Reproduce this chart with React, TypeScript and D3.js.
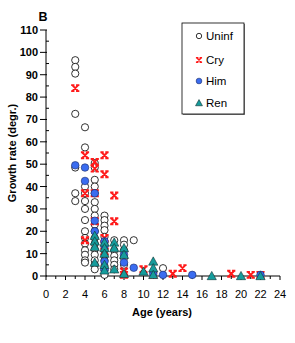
import * as d3 from 'd3'

// [age, growth rate] pairs
const uninf: [number, number][] = [
  [3, 96.5], [3, 93.5], [3, 90.5], [3, 72.5], [3, 48.5], [3, 37], [3, 33.5],
  [4, 66.5], [4, 57.5], [4, 40], [4, 37], [4, 33.5], [4, 30], [4, 25], [4, 20], [4, 17], [4, 14.5], [4, 11.5], [4, 9.5], [4, 7], [4, 6],
  [5, 50.5], [5, 48.5], [5, 43], [5, 40], [5, 37], [5, 33], [5, 30], [5, 27], [5, 23], [5, 20], [5, 17], [5, 14.5], [5, 12], [5, 9.5], [5, 7], [5, 5], [5, 3],
  [6, 27], [6, 25], [6, 22.5], [6, 20.5], [6, 17.5], [6, 15], [6, 12], [6, 9.5], [6, 7], [6, 4.5], [6, 2.5], [6, 0.5],
  [7, 16], [7, 11.5], [7, 9], [7, 7], [7, 5], [7, 3],
  [8, 16], [8, 14], [8, 11.5], [8, 8], [8, 5],
  [9, 16], [12, 3.5],
]
const cry: [number, number][] = [
  [3, 84], [4, 54], [4, 37], [4, 16], [5, 51], [5, 48], [5, 37], [5, 24.5],
  [6, 54], [6, 45.5], [6, 17], [6, 11], [7, 36], [7, 24.5], [8, 2], [8, 0.5],
  [10, 3], [11, 0.5], [13, 1], [14, 3.5], [19, 1], [21, 0.5], [22, 0.5],
]
const him: [number, number][] = [
  [3, 49.5], [4, 48.5], [4, 42.5], [5, 37], [5, 24.7], [5, 20], [6, 15.5], [6, 13.5], [6, 6.5], [6, 3],
  [8, 9.5], [8, 6], [9, 3.7], [11, 1], [12, 0.5], [15, 0.5], [22, 0.5],
]
const ren: [number, number][] = [
  [5, 18], [5, 15.5], [5, 13], [5, 6], [6, 15], [6, 12.5], [6, 10], [6, 5], [6, 2.5],
  [7, 15], [7, 12.5], [7, 3], [8, 12.5], [8, 9.5], [8, 1], [10, 2], [11, 6.5], [11, 3.5], [11, 0.5],
  [17, 0], [20, 0], [22, 0],
]
const xTicks = [0, 2, 4, 6, 8, 10, 12, 14, 16, 18, 20, 22, 24]
const yTicks = [0, 10, 20, 30, 40, 50, 60, 70, 80, 90, 100, 110]
const legendLabels = ['Uninf', 'Cry', 'Him', 'Ren']

const W = 295
const H = 343
const FONT = 'Liberation Sans, Arial, Helvetica, sans-serif'
const RED = '#ff1a1a'
const BLUE = '#3a6cf0'
const TEAL = '#159c9c'

const x = d3.scaleLinear().domain([0, 24]).range([46, 280])
const y = d3.scaleLinear().domain([0, 110]).range([276, 30])

function Marker({ kind, cx, cy, s = 1 }: { kind: number; cx: number; cy: number; s?: number }) {
  if (kind === 0)
    return <circle cx={cx} cy={cy} r={3.6 * s} fill="#fff" stroke="#000" strokeWidth={0.8} />
  if (kind === 1) {
    const r = 3 * s
    const b = 1.1 * s
    return (
      <path
        d={`M${cx - r},${cy - r}L${cx + r},${cy + r}M${cx + r},${cy - r}L${cx - r},${cy + r}M${cx - r - b},${cy - r}H${cx - r + 2 * b}M${cx + r - 2 * b},${cy - r}H${cx + r + b}M${cx - r - b},${cy + r}H${cx - r + 2 * b}M${cx + r - 2 * b},${cy + r}H${cx + r + b}`}
        stroke={RED}
        strokeWidth={1.9 * Math.max(s, 0.8)}
        fill="none"
      />
    )
  }
  if (kind === 2)
    return <circle cx={cx} cy={cy} r={3.8 * s} fill={BLUE} stroke="#1a2a66" strokeWidth={0.6} />
  const r = 4.6 * s
  return (
    <path
      d={`M${cx},${cy - r}L${cx + r},${cy + r * 0.8}L${cx - r},${cy + r * 0.8}Z`}
      fill={TEAL}
      stroke="#103030"
      strokeWidth={0.6}
    />
  )
}

export default function App() {
  const series = [uninf, cry, him, ren]
  const minorY = d3.range(5, 110, 10)
  const minorX = d3.range(1, 24, 2)

  return (
    <svg width={W} height={H} style={{ position: 'absolute', left: 0, top: 0, background: '#fff' }} fontFamily={FONT}>
      <rect width={W} height={H} fill="#fff" />
      <text x={43} y={21} textAnchor="middle" fontWeight="bold" fontSize={12.5}>B</text>

      {/* y axis */}
      <line x1={46} x2={46} y1={y(110)} y2={y(0)} stroke="#000" />
      {yTicks.map((t) => (
        <g key={t}>
          <line x1={40} x2={47} y1={y(t)} y2={y(t)} stroke="#000" />
          <text x={38} y={y(t) + 4} textAnchor="end" fontSize={11} fontWeight="bold">{t}</text>
        </g>
      ))}
      {minorY.map((t) => (
        <line key={t} x1={46} x2={49} y1={y(t)} y2={y(t)} stroke="#000" />
      ))}
      <text transform={`translate(16,${153}) rotate(-90)`} textAnchor="middle" fontSize={11} fontWeight="bold">
        Growth rate (degr.)
      </text>

      {/* x axis */}
      <line x1={x(0)} x2={x(24)} y1={y(0)} y2={y(0)} stroke="#000" />
      {xTicks.map((t) => (
        <g key={t}>
          <line x1={x(t)} x2={x(t)} y1={y(0)} y2={y(0) + 4} stroke="#000" />
          <text x={x(t)} y={298} textAnchor="middle" fontSize={11}>{t}</text>
        </g>
      ))}
      {minorX.map((t) => (
        <line key={t} x1={x(t)} x2={x(t)} y1={y(0)} y2={y(0) + 3} stroke="#000" />
      ))}
      <text x={162} y={316} textAnchor="middle" fontSize={11} fontWeight="bold">Age (years)</text>

      {/* points */}
      {series.map((pts, k) => (
        <g key={k}>
          {pts.map(([a, g], i) => (
            <Marker key={i} kind={k} cx={x(a)} cy={y(g)} />
          ))}
        </g>
      ))}

      {/* legend */}
      <rect x={183} y={24} width={62} height={91} fill="#888" />
      <rect x={182} y={23} width={62} height={91} fill="#fff" stroke="#000" strokeWidth={0.8} />
      {legendLabels.map((l, i) => {
        const cy = [36, 60, 81, 103][i]
        return (
          <g key={l}>
            <Marker kind={i} cx={199} cy={cy} s={0.75} />
            <text x={206} y={cy + 4} fontSize={11.5}>{l}</text>
          </g>
        )
      })}
    </svg>
  )
}
